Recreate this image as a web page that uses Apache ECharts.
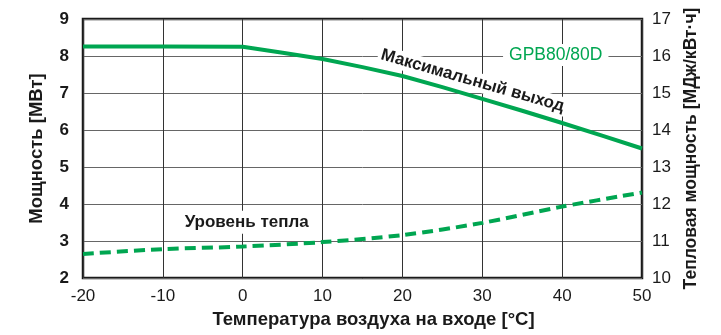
<!DOCTYPE html>
<html>
<head>
<meta charset="utf-8">
<script src="https://cdn.jsdelivr.net/npm/echarts@6/dist/echarts.min.js"></script>
<style>
  html, body { margin: 0; padding: 0; background: #fff; }
  #chart { width: 721px; height: 335px; }
</style>
</head>
<body>
<div id="chart"></div>
<script>
// Inlet air temperature, °C
var temps = [-20, -10, 0, 5, 10, 15, 20, 25, 30, 35, 40, 45, 50];
// Maximum output, MW (left axis)
var maxOutput = [8.26, 8.26, 8.25, 8.09, 7.92, 7.70, 7.46, 7.16, 6.84, 6.52, 6.19, 5.85, 5.50];
// Heat-rate temperatures, °C
var heatTemps = [-20, -10, 0, 10, 20, 30, 40, 50];
// Heat rate, MJ/kWh (right axis)
var heatRate = [10.65, 10.78, 10.85, 10.97, 11.16, 11.49, 11.93, 12.31];

var GREEN = '#00a651';
var FONT = '"Liberation Sans", Arial, Helvetica, sans-serif';

function pairs(xs, ys) {
  return xs.map(function (x, i) { return [x, ys[i]]; });
}

var chart = echarts.init(document.getElementById('chart'), null, { renderer: 'canvas' });

chart.setOption({
  animation: false,
  backgroundColor: '#fff',
  grid: {
    left: 83, right: 79, top: 19, bottom: 57,
    show: true, borderColor: '#1a1a1a', borderWidth: 2.5, backgroundColor: 'transparent'
  },
  xAxis: {
    type: 'value', min: -20, max: 50, interval: 10,
    name: 'Температура воздуха на входе [°C]',
    nameLocation: 'middle', nameGap: 32,
    nameTextStyle: { fontFamily: FONT, fontSize: 18.5, fontWeight: 'bold', color: '#1a1a1a', padding: [0, 0, 0, 22] },
    axisLine: { show: false },
    axisTick: { show: false },
    axisLabel: { fontFamily: FONT, fontSize: 17, color: '#1a1a1a', margin: 10 },
    splitLine: { show: true, lineStyle: { color: '#333', width: 1 } }
  },
  yAxis: [
    {
      type: 'value', min: 2, max: 9, interval: 1, position: 'left',
      name: 'Мощность [МВт]', nameLocation: 'middle', nameGap: 37, nameRotate: 90,
      nameTextStyle: { fontFamily: FONT, fontSize: 18.5, fontWeight: 'bold', color: '#1a1a1a' },
      axisLine: { show: false }, axisTick: { show: false },
      axisLabel: { fontFamily: FONT, fontSize: 17, fontWeight: 'bold', color: '#1a1a1a', margin: 14 },
      splitLine: { show: true, lineStyle: { color: '#666', width: 1 } }
    },
    {
      type: 'value', min: 10, max: 17, interval: 1, position: 'right',
      name: 'Тепловая мощность [МДж/кВт·ч]', nameLocation: 'middle', nameGap: 37, nameRotate: 90,
      nameTextStyle: { fontFamily: FONT, fontSize: 17.5, fontWeight: 'bold', color: '#1a1a1a' },
      axisLine: { show: false }, axisTick: { show: false },
      axisLabel: { fontFamily: FONT, fontSize: 17, color: '#1a1a1a', margin: 10 },
      splitLine: { show: false }
    }
  ],
  series: [
    {
      name: 'Максимальный выход', type: 'line', yAxisIndex: 0,
      data: pairs(temps, maxOutput), smooth: false, symbol: 'none',
      lineStyle: { color: GREEN, width: 4, join: 'round' }, z: 3
    },
    {
      name: 'Уровень тепла', type: 'line', yAxisIndex: 1,
      data: pairs(heatTemps, heatRate), smooth: 0.3, symbol: 'none',
      lineStyle: { color: GREEN, width: 4, type: [11, 6] }, z: 3
    }
  ]
});

// Annotations anchored in data coordinates
function at(x, y, axisIdx) {
  return chart.convertToPixel({ xAxisIndex: 0, yAxisIndex: axisIdx || 0 }, [x, y]);
}

var pModel = at(39.2, 8.03);
var pMax = at(28.8, 7.33);
var pHeat = at(0.5, 3.51);

chart.setOption({
  graphic: [
    {
      type: 'text', x: pModel[0], y: pModel[1], z: 10,
      style: {
        text: 'GPB80/80D', fill: GREEN, font: '17.5px ' + FONT,
        align: 'center', verticalAlign: 'middle',
        backgroundColor: '#fff', padding: [2, 6]
      }
    },
    {
      type: 'text', x: pMax[0], y: pMax[1], rotation: -16 * Math.PI / 180, z: 10,
      style: {
        text: 'Максимальный выход', fill: '#1a1a1a', font: 'bold 17px ' + FONT,
        align: 'center', verticalAlign: 'middle',
        backgroundColor: '#fff', padding: [1, 3]
      }
    },
    {
      type: 'text', x: pHeat[0], y: pHeat[1], z: 10,
      style: {
        text: 'Уровень тепла', fill: '#1a1a1a', font: 'bold 17px ' + FONT,
        align: 'center', verticalAlign: 'middle',
        backgroundColor: '#fff', padding: [3, 4]
      }
    }
  ]
});
</script>
</body>
</html>
